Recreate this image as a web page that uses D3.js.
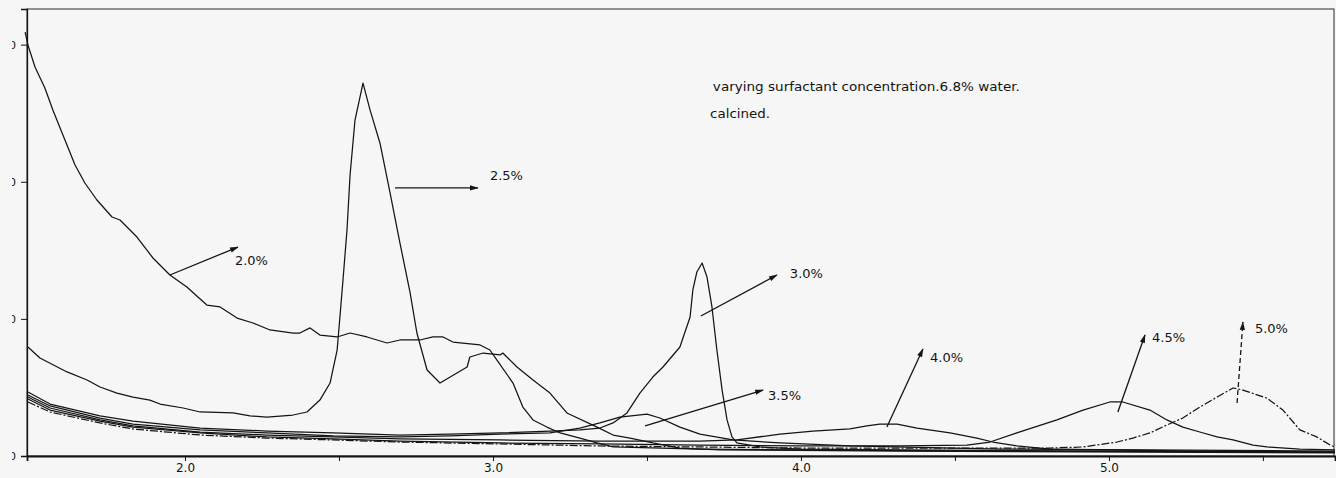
<!DOCTYPE html>
<html>
<head>
<meta charset="utf-8">
<script src="https://cdn.jsdelivr.net/npm/d3@7"></script>
<style>
  html, body { margin: 0; padding: 0; background: #f6f6f6; }
  svg { display: block; font-family: "DejaVu Sans", "Liberation Sans", Arial, sans-serif; }
</style>
</head>
<body>
<svg id="chart" width="1336" height="478"></svg>
<script>
// Low-angle XRD patterns, calcined samples, 6.8% water, surfactant 2.0 – 5.0 %
// Each series: [2-theta (deg), intensity (counts)]
const twoThetaTicks = [2.0, 2.5, 3.0, 3.5, 4.0, 4.5, 5.0, 5.5];
const twoThetaLabels = ["2.0", "", "3.0", "", "4.0", "", "5.0", ""];
const countTicks = [0, 1000, 2000, 3000];

const s20 = [[1.481,3092],[1.490,2997],[1.513,2837],[1.545,2684],[1.571,2523],[1.601,2356],[1.643,2122],[1.675,1991],[1.714,1867],[1.763,1743],[1.789,1721],[1.844,1597],[1.896,1444],[1.951,1320],[2.006,1233],[2.071,1101],[2.114,1087],[2.169,1006],[2.221,970],[2.276,919],[2.351,897],[2.373,897],[2.406,934],[2.438,882],[2.494,868],[2.536,897],[2.591,868],[2.656,824],[2.698,846],[2.763,846],[2.805,868],[2.838,868],[2.870,831],[2.958,810],[2.990,773],[3.013,700],[3.065,532],[3.097,357],[3.130,263],[3.175,211],[3.218,168],[3.282,131],[3.338,95],[3.390,66],[3.672,51],[3.997,44],[4.646,36],[5.734,29]];

const s25 = [[1.490,795],[1.529,715],[1.617,613],[1.682,554],[1.724,503],[1.779,459],[1.831,430],[1.886,408],[1.919,379],[1.994,350],[2.049,321],[2.156,314],[2.211,292],[2.266,284],[2.351,299],[2.396,321],[2.438,408],[2.471,532],[2.494,773],[2.503,1014],[2.513,1284],[2.526,1648],[2.536,2049],[2.552,2450],[2.578,2720],[2.601,2523],[2.633,2283],[2.666,1918],[2.698,1553],[2.731,1189],[2.753,897],[2.786,627],[2.828,532],[2.883,605],[2.916,649],[2.925,722],[2.968,751],[3.023,737],[3.032,751],[3.078,649],[3.130,554],[3.185,459],[3.240,314],[3.338,211],[3.390,153],[3.445,131],[3.519,95],[3.607,58],[3.737,44],[4.321,36],[5.734,22]];

const s30 = [[1.490,467],[1.562,379],[1.724,292],[1.831,255],[2.049,204],[2.266,182],[2.481,168],[2.698,153],[2.860,160],[3.023,168],[3.185,182],[3.282,190],[3.347,204],[3.390,241],[3.435,314],[3.477,459],[3.519,576],[3.552,649],[3.607,795],[3.640,1014],[3.649,1211],[3.662,1342],[3.679,1408],[3.695,1305],[3.711,1087],[3.727,773],[3.744,481],[3.760,263],[3.776,139],[3.792,95],[3.867,66],[3.997,51],[4.321,44],[4.971,36],[5.734,29]];

const s35 = [[1.490,445],[1.562,365],[1.724,277],[1.831,233],[2.049,190],[2.266,168],[2.481,146],[2.698,139],[2.860,146],[3.023,160],[3.185,168],[3.282,204],[3.347,241],[3.412,284],[3.500,306],[3.542,277],[3.607,211],[3.672,160],[3.779,117],[3.932,95],[4.159,73],[4.646,51],[5.734,36]];

const s40 = [[1.490,430],[1.562,350],[1.724,263],[1.831,219],[2.049,175],[2.266,153],[2.481,139],[2.698,124],[3.023,117],[3.347,109],[3.672,109],[3.792,117],[3.932,160],[4.039,182],[4.159,197],[4.214,219],[4.256,233],[4.312,233],[4.377,204],[4.484,168],[4.571,131],[4.623,102],[4.701,73],[4.808,51],[4.971,44],[5.295,36],[5.734,29]];

const s45 = [[1.490,416],[1.562,335],[1.724,255],[1.831,211],[2.049,168],[2.266,139],[2.481,124],[2.698,109],[3.023,95],[3.347,88],[3.672,80],[3.997,73],[4.321,73],[4.539,80],[4.614,102],[4.701,168],[4.831,263],[4.916,335],[5.003,394],[5.045,394],[5.133,335],[5.188,263],[5.240,211],[5.295,175],[5.351,139],[5.403,117],[5.468,80],[5.513,66],[5.620,51],[5.734,44]];

const s50 = [[1.490,394],[1.562,321],[1.724,241],[1.831,197],[2.049,153],[2.266,131],[2.481,117],[2.698,102],[3.023,88],[3.347,73],[3.672,66],[3.997,58],[4.321,58],[4.646,58],[4.808,58],[4.916,66],[5.026,102],[5.078,131],[5.133,168],[5.188,226],[5.240,277],[5.295,357],[5.351,430],[5.403,496],[5.435,481],[5.513,422],[5.565,335],[5.620,190],[5.675,139],[5.718,80],[5.734,66]];

const seriesList = [s20, s25, s30, s35, s40, s45, s50];
const seriesNames = ["2.0%", "2.5%", "3.0%", "3.5%", "4.0%", "4.5%", "5.0%"];
const seriesDash = [null, null, null, null, null, null, "8,2,2,2"];

// Callouts: arrow from curve (tail) to label (head), label anchored at its start
const calloutTails = [[1.951,1320],[2.682,1955],[3.675,1021],[3.494,219],[4.279,211],[5.029,321],[5.416,387]];
const calloutHeads = [[2.172,1524],[2.951,1955],[3.922,1320],[3.877,481],[4.396,780],[5.117,882],[5.435,977]];
const calloutLabels = [[2.162,1393],[2.990,2013],[3.964,1298],[3.893,408],[4.419,686],[5.140,831],[5.474,897]];

const noteLines = ["varying surfactant concentration.6.8% water.", "calcined."];
const noteAnchors = [[3.714,2662],[3.705,2465]];
const noteWidths = [307, 60];

const W = 1336, H = 478;
const margin = { left: 27, right: 1, top: 9, bottom: 22 };

const x = d3.scaleLinear().domain([1.487, 5.734]).range([margin.left, W - margin.right]);
const y = d3.scaleLinear().domain([0, 3260]).range([H - margin.bottom, margin.top]);

const svg = d3.select("#chart");
const ink = "#141414";

// plot frame (top and right edges)
svg.append("rect")
  .attr("x", x.range()[0]).attr("y", y.range()[1])
  .attr("width", x.range()[1] - x.range()[0] - 1)
  .attr("height", y.range()[0] - y.range()[1])
  .attr("fill", "none").attr("stroke", "#2a2a2a").attr("stroke-width", 1);

// y axis: the label column is trimmed at the page edge, only the last digit shows
svg.append("clipPath").attr("id", "ylabClip")
  .append("rect").attr("x", 12).attr("y", 0).attr("width", 20).attr("height", H);

const yAxis = svg.append("g")
  .attr("transform", `translate(${margin.left},0)`)
  .call(d3.axisLeft(y).tickValues(countTicks).tickSize(6).tickFormat(""));
yAxis.select(".domain").attr("stroke", ink).attr("stroke-width", 1.3);
yAxis.selectAll(".tick line").attr("stroke", ink);

const yLabLayer = svg.append("g").attr("clip-path", "url(#ylabClip)");
yLabLayer.selectAll("text")
  .data(countTicks)
  .join("text")
  .attr("x", 16).attr("y", d => y(d)).attr("dy", "0.35em")
  .attr("text-anchor", "end").attr("font-size", 11).attr("fill", ink)
  .text(d => String(d));

const xAxis = svg.append("g")
  .attr("transform", `translate(0,${y(0)})`)
  .call(d3.axisBottom(x).tickValues(twoThetaTicks).tickSize(5).tickPadding(2)
    .tickFormat((d, i) => twoThetaLabels[i]));
xAxis.select(".domain").attr("stroke", ink).attr("stroke-width", 1.8);
xAxis.selectAll(".tick line").attr("stroke", ink);
xAxis.selectAll(".tick text").attr("fill", ink).attr("font-size", 12)
  .attr("font-family", "DejaVu Sans, Liberation Sans, Arial, sans-serif");

// diffraction traces
const line = d3.line().x(d => x(d[0])).y(d => y(d[1])).curve(d3.curveLinear);
svg.append("g").selectAll("path")
  .data(seriesList)
  .join("path")
  .attr("d", line)
  .attr("fill", "none")
  .attr("stroke", ink)
  .attr("stroke-width", 1.25)
  .attr("stroke-linejoin", "round")
  .attr("stroke-dasharray", (d, i) => seriesDash[i]);

// arrowhead
svg.append("defs").append("marker")
  .attr("id", "head").attr("viewBox", "0 -4 10 8")
  .attr("refX", 9).attr("refY", 0)
  .attr("markerWidth", 10).attr("markerHeight", 7)
  .attr("markerUnits", "userSpaceOnUse")
  .attr("orient", "auto")
  .append("path").attr("d", "M0,-3L10,0L0,3Z").attr("fill", ink);

const callouts = svg.append("g");
seriesNames.forEach((name, i) => {
  const t = calloutTails[i], h = calloutHeads[i], l = calloutLabels[i];
  callouts.append("line")
    .attr("x1", x(t[0])).attr("y1", y(t[1]))
    .attr("x2", x(h[0])).attr("y2", y(h[1]))
    .attr("stroke", ink).attr("stroke-width", 1.3)
    .attr("stroke-dasharray", i === 6 ? "5,3" : null)
    .attr("marker-end", "url(#head)");
  callouts.append("text")
    .attr("x", x(l[0])).attr("y", y(l[1]))
    .attr("font-size", 13).attr("fill", ink)
    .text(name);
});

// sample description
noteLines.forEach((t, i) => {
  svg.append("text")
    .attr("x", x(noteAnchors[i][0])).attr("y", y(noteAnchors[i][1]))
    .attr("font-size", 12.5).attr("fill", ink)
    .attr("textLength", noteWidths[i]).attr("lengthAdjust", "spacingAndGlyphs")
    .text(t);
});
</script>
</body>
</html>
